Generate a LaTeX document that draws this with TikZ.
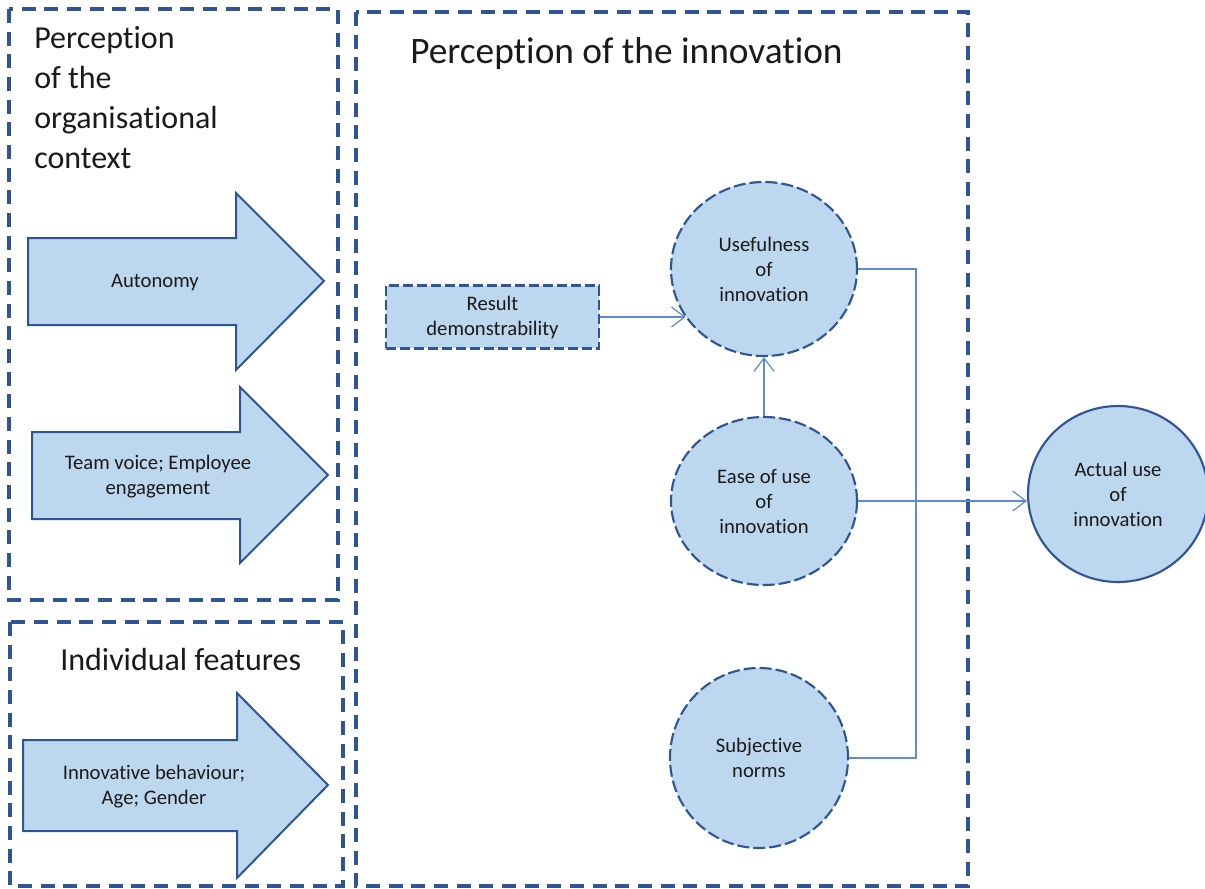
\documentclass[tikz,border=0pt]{standalone}
\usepackage{fontspec}
\setmainfont{Carlito}[Ligatures=NoCommon]
\usetikzlibrary{shapes.geometric,arrows.meta}
\definecolor{fillblue}{HTML}{BDD7EE}
\definecolor{darkblue}{HTML}{2F5597}
\definecolor{linkblue}{HTML}{5B8BD5}
\definecolor{txt}{HTML}{1A1A1A}
\begin{document}
\begin{tikzpicture}[x=0.75pt,y=-0.75pt,
  groupbox/.style={draw=darkblue, line width=2.4pt, dash pattern=on 10.5pt off 6.5pt},
  circ/.style={ellipse, draw=darkblue, fill=fillblue, line width=1.6pt, dash pattern=on 9pt off 3pt, inner sep=0pt, align=center, font=\fontsize{15.5}{18.75}\selectfont, text=txt},
  solidcirc/.style={circ, solid},
  resbox/.style={rectangle, draw=darkblue, fill=fillblue, line width=1.9pt, dash pattern=on 7.5pt off 3pt, inner sep=0pt, align=center, font=\fontsize{15.5}{18.75}\selectfont, text=txt, minimum width=160pt, minimum height=47pt},
  blockarrow/.style={draw=darkblue, fill=fillblue, line width=1.5pt, line join=miter},
  lbl/.style={align=center, font=\fontsize{15.5}{18.75}\selectfont, text=txt, inner sep=0pt},
  ttl/.style={text=txt, inner sep=0pt},
  conn/.style={draw=linkblue, line width=0.9pt},
  tip/.style={-{Straight Barb[length=10pt,width=15pt,line width=0.9pt]}}
]
\useasboundingbox (0,0) rectangle (1205,888);

% group boxes
\draw[groupbox] (9,9) rectangle (338,600);
\draw[groupbox] (10,622) rectangle (343,886);
\draw[groupbox] (356,12) rectangle (968,886);

% titles
\node[ttl, anchor=north west, align=left, font=\fontsize{24}{30}\selectfont] (t1) at (34,26) {Perception\\of the\\organisational\\context};
\node[ttl, anchor=base west, font=\fontsize{24}{30}\selectfont] (t2) at (60,670) {Individual features};
\node[ttl, anchor=base west, font=\fontsize{28}{34}\selectfont] (t3) at (410,64) {Perception of the innovation};

% block arrows
\draw[blockarrow] (28,238) -- (236,238) -- (236,193) -- (324,281) -- (236,370) -- (236,325) -- (28,325) -- cycle;
\draw[blockarrow] (32,432) -- (240,432) -- (240,387) -- (328,475) -- (240,563) -- (240,519) -- (32,519) -- cycle;
\draw[blockarrow] (23,740) -- (237,740) -- (237,693) -- (328,785) -- (237,878) -- (237,831) -- (23,831) -- cycle;
\node[lbl] (autonomy) at (155,283) {Autonomy};
\node[lbl] (team) at (158,477) {Team voice; Employee\\engagement};
\node[lbl] (indiv) at (154,787) {Innovative behaviour;\\Age; Gender};

% nodes
\node[resbox] (res) at (492.5,317) {Result\\demonstrability};
\node[circ, minimum width=139.5pt, minimum height=130.5pt] (use) at (764,269) {Usefulness\\of\\innovation};
\node[circ, minimum width=139.5pt, minimum height=126pt] (ease) at (764,501) {Ease of use\\of\\innovation};
\node[circ, minimum width=133.5pt, minimum height=135pt] (subj) at (759,758) {Subjective\\norms};
\node[solidcirc, minimum width=135pt, minimum height=132pt] (actual) at (1118,494) {Actual use\\of\\innovation};

% connectors
\coordinate (busx) at (916,0);
\draw[conn,tip] (res.east) -- (res.east -| use.212);
\draw[conn,tip] (ease.north) -- (use.south);
\draw[conn] (use.east) -- (use.east -| busx) -- (subj.east -| busx) -- (subj.east);
\draw[conn,tip] (ease.east) -- (ease.east -| actual.west);
\end{tikzpicture}
\end{document}
